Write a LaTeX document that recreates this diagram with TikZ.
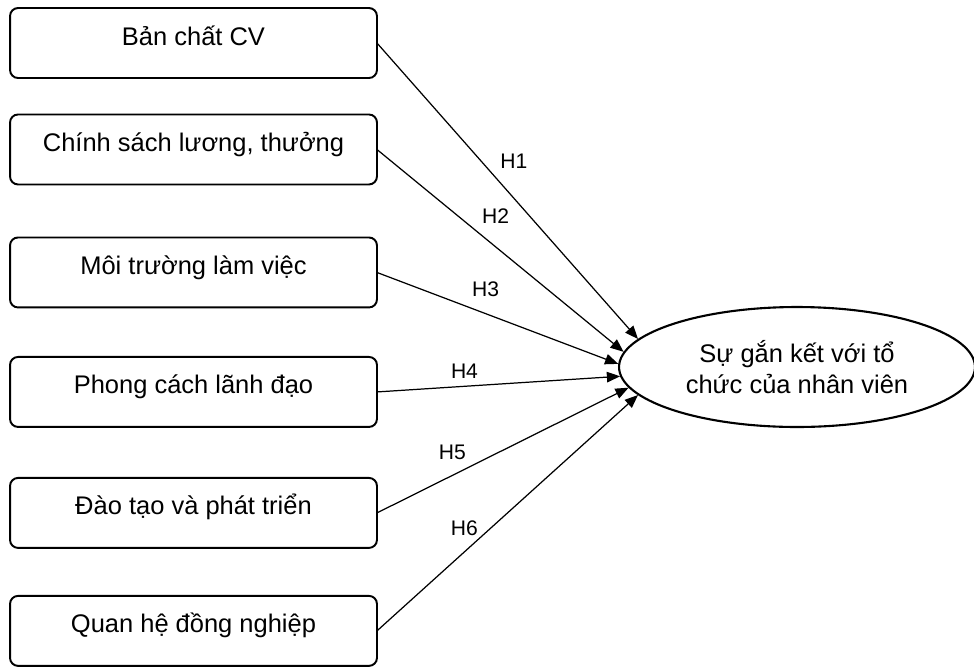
\documentclass[tikz,border=0pt]{standalone}
\usepackage{fontspec}
\setmainfont{Liberation Sans}
\usetikzlibrary{positioning,arrows.meta,shapes}

\begin{document}
\begin{tikzpicture}[
    x=0.02cm, y=-0.02cm,
    box/.style={rectangle, rounded corners=0.16cm, draw, line width=1.1pt, outer sep=0pt, minimum width=7.34cm, inner ysep=0pt, text height=0.74cm, text depth=0.66cm, font=\fontsize{14.5}{17}\selectfont},
    goal/.style={ellipse, draw, line width=1.2pt, minimum width=7.12cm, minimum height=2.4cm, inner sep=0pt, align=center, font=\fontsize{14.5}{17.5}\selectfont},
    arrow/.style={-{Triangle[length=7.5pt,width=6pt]}, line width=0.7pt},
    hlabel/.style={font=\fontsize{12}{14}\selectfont}
]
    \useasboundingbox (0,0) rectangle (974,667);

    \node[box] (cv) at (193.5,43) {Bản chất CV};
    \node[box, below=0.73cm of cv] (luong) {Chính sách lương, thưởng};
    \node[box, below=1.06cm of luong] (moitruong) {Môi trường làm việc};
    \node[box, below=0.99cm of moitruong] (lanhdao) {Phong cách lãnh đạo};
    \node[box, below=1.02cm of lanhdao] (daotao) {Đào tạo và phát triển};
    \node[box, below=0.96cm of daotao] (dongnghiep) {Quan hệ đồng nghiệp};

    \node[goal] (ganket) at (797,367) {Sự gắn kết với tổ\\chức của nhân viên};

    \draw[arrow] (cv.east) -- node[hlabel, pos=0.4, right=0.25cm] {H1} (ganket.170);
    \draw[arrow] (luong.east) -- node[hlabel, pos=0.4, above right] {H2} (ganket.175);
    \draw[arrow] (moitruong.east) -- node[hlabel, pos=0.45, above=0.2cm] {H3} (ganket.179);
    \draw[arrow] (lanhdao.east) -- node[hlabel, pos=0.36, above=1pt] {H4} (ganket.183);
    \draw[arrow] (daotao.east) -- node[hlabel, pos=0.3, above=0.18cm] {H5} (ganket.187);
    \draw[arrow] (dongnghiep.east) -- node[hlabel, pos=0.335, above=0.2cm] {H6} (ganket.190);
\end{tikzpicture}
\end{document}
